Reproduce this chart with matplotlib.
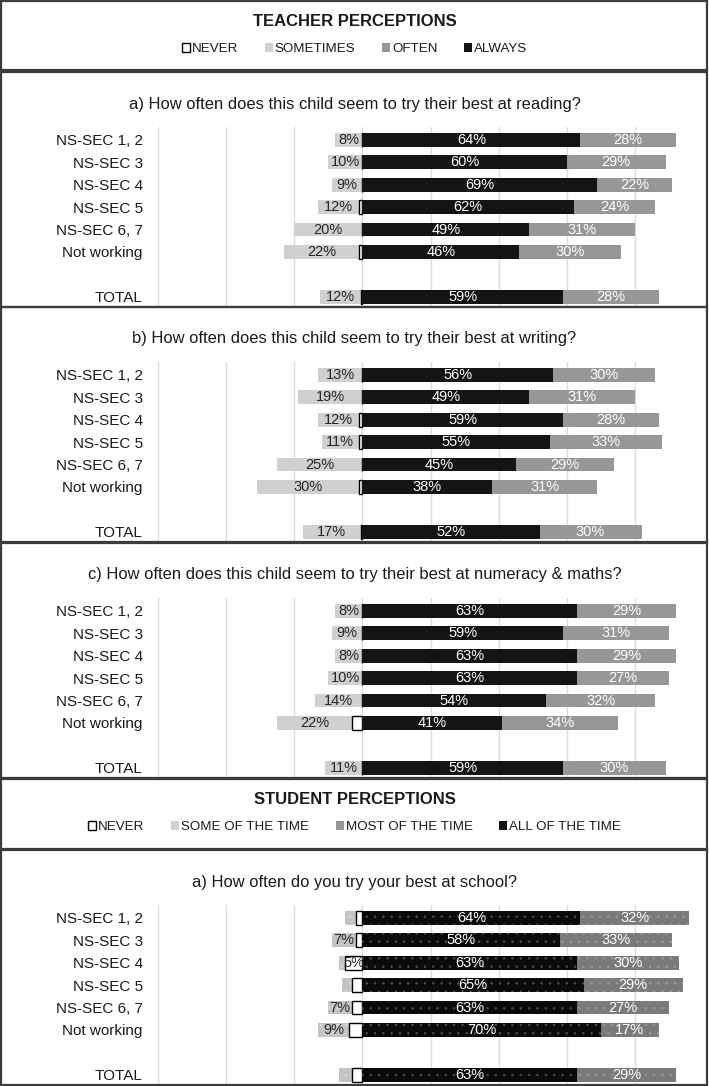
import numpy as np
import matplotlib.pyplot as plt
from matplotlib.patches import Patch, Rectangle

plt.rcParams['font.family'] = ['Liberation Sans', 'DejaVu Sans']
plt.rcParams['hatch.linewidth'] = 0.6

# 数据
groups = ["NS-SEC 1, 2", "NS-SEC 3", "NS-SEC 4", "NS-SEC 5", "NS-SEC 6, 7", "Not working", "TOTAL"]
row_pos = [0, 1, 2, 3, 4, 5, 7]

reading_never = [0, 0, 0, 1, 0, 1, 0.5]
reading_some = [8, 10, 9, 12, 20, 22, 12]
reading_always = [64, 60, 69, 62, 49, 46, 59]
reading_often = [28, 29, 22, 24, 31, 30, 28]

writing_never = [0, 0, 1, 1, 0, 1, 0.5]
writing_some = [13, 19, 12, 11, 25, 30, 17]
writing_always = [56, 49, 59, 55, 45, 38, 52]
writing_often = [30, 31, 28, 33, 29, 31, 30]

maths_never = [0, 0, 0, 0, 0, 3, 0]
maths_some = [8, 9, 8, 10, 14, 22, 11]
maths_always = [63, 59, 63, 63, 54, 41, 59]
maths_often = [29, 31, 29, 27, 32, 34, 30]

student_never = [2, 2, 5, 3, 3, 4, 3]
student_some = [3, 7, 2, 3, 7, 9, 4]
student_always = [64, 58, 63, 65, 63, 70, 63]
student_most = [32, 33, 30, 29, 27, 17, 29]

W, H = 709, 1086
fig = plt.figure(figsize=(W / 100, H / 100), dpi=100)


def fy(py):
    return 1 - py / H


def panel(top, title, never, some, always, often, student=False):
    # 边框
    fig.add_artist(Rectangle((1 / W, fy(top + 235)), 706 / W, 235 / H,
                             transform=fig.transFigure, fill=False,
                             edgecolor="#3c3c3c", lw=1.6))
    fig.text(0.5, fy(top + 32), title, ha="center", va="center", fontsize=11.9, color="#1a1a1a")
    ax = fig.add_axes([158 / W, fy(top + 235), 545 / W, 180 / H])
    y = np.array(row_pos)
    never = np.array(never, float)
    some = np.array(some, float)
    always = np.array(always, float)
    often = np.array(often, float)
    h = 0.62
    if student:
        c_some, c_always, c_often = "#c4c4c4", "#0a0a0a", "#7a7a7a"
        ax.barh(y, -some, h, left=-never, color=c_some, edgecolor="#dadada", lw=0, hatch="..")
        ax.barh(y, -never, h, color="white", edgecolor="black", lw=1)
        ax.barh(y, always, h, color=c_always, edgecolor="#4a4a4a", lw=0, hatch="..")
        ax.barh(y, often, h, left=always, color=c_often, edgecolor="#999999", lw=0, hatch="..")
    else:
        c_some, c_always, c_often = "#d0d0d0", "#141414", "#979797"
        ax.barh(y, -some, h, left=-never, color=c_some, lw=0)
        ax.barh(y, -never, h, color="white", edgecolor="black", lw=1)
        ax.barh(y, always, h, color=c_always, lw=0)
        ax.barh(y, often, h, left=always, color=c_often, lw=0)

    # 数值标签
    for i in range(len(y)):
        if some[i] >= 5:
            ax.text(-never[i] - some[i] / 2, y[i], f"{some[i]:.0f}%", ha="center", va="center",
                    fontsize=10.5, color="#262626")
        if never[i] >= 5:
            ax.text(-never[i] / 2, y[i], f"{never[i]:.0f}%", ha="center", va="center",
                    fontsize=10.5, color="#262626")
        ax.text(always[i] / 2, y[i], f"{always[i]:.0f}%", ha="center", va="center",
                fontsize=10.5, color="white")
        ax.text(always[i] + often[i] / 2, y[i], f"{often[i]:.0f}%", ha="center", va="center",
                fontsize=10.5, color="white")

    ax.set_xlim(-60, 100)
    ax.set_ylim(7.45, -0.565)
    ax.set_xticks(range(-60, 100, 20))
    ax.set_xticklabels([])
    ax.grid(axis="x", color="#dcdcdc", lw=1)
    ax.set_axisbelow(True)
    ax.set_yticks(row_pos)
    ax.set_yticklabels(groups, fontsize=11, color="#1a1a1a")
    ax.tick_params(axis="both", length=0)
    ax.tick_params(axis="y", pad=11)
    for s in ax.spines.values():
        s.set_visible(False)
    ax.patch.set_alpha(0)
    return ax


def header(top, bottom, title, labels, spacing):
    fig.add_artist(Rectangle((1 / W, fy(bottom)), 706 / W, (bottom - top) / H,
                             transform=fig.transFigure, fill=False,
                             edgecolor="#3c3c3c", lw=1.6))
    fig.text(0.5, fy(top + 21), title, ha="center", va="center", fontsize=12,
             fontweight="bold", color="#1a1a1a")
    handles = [Patch(facecolor="white", edgecolor="black", lw=1),
               Patch(facecolor="#d0d0d0", lw=0),
               Patch(facecolor="#979797", lw=0),
               Patch(facecolor="#141414", lw=0)]
    fig.legend(handles, labels, loc="center", bbox_to_anchor=(0.5, fy(top + 48)), ncol=4,
               frameon=False, fontsize=9.6, handlelength=0.6, handleheight=0.6,
               handletextpad=0.15, columnspacing=spacing, labelcolor="#1a1a1a")


header(1, 70, "TEACHER PERCEPTIONS", ["NEVER", "SOMETIMES", "OFTEN", "ALWAYS"], 2.0)
panel(72, "a) How often does this child seem to try their best at reading?",
      reading_never, reading_some, reading_always, reading_often)
panel(307, "b) How often does this child seem to try their best at writing?",
      writing_never, writing_some, writing_always, writing_often)
panel(543, "c) How often does this child seem to try their best at numeracy & maths?",
      maths_never, maths_some, maths_always, maths_often)
header(779, 849, "STUDENT PERCEPTIONS",
       ["NEVER", "SOME OF THE TIME", "MOST OF THE TIME", "ALL OF THE TIME"], 2.0)
panel(850, "a) How often do you try your best at school?",
      student_never, student_some, student_always, student_most, student=True)

fig.savefig("out.png", dpi=100)
